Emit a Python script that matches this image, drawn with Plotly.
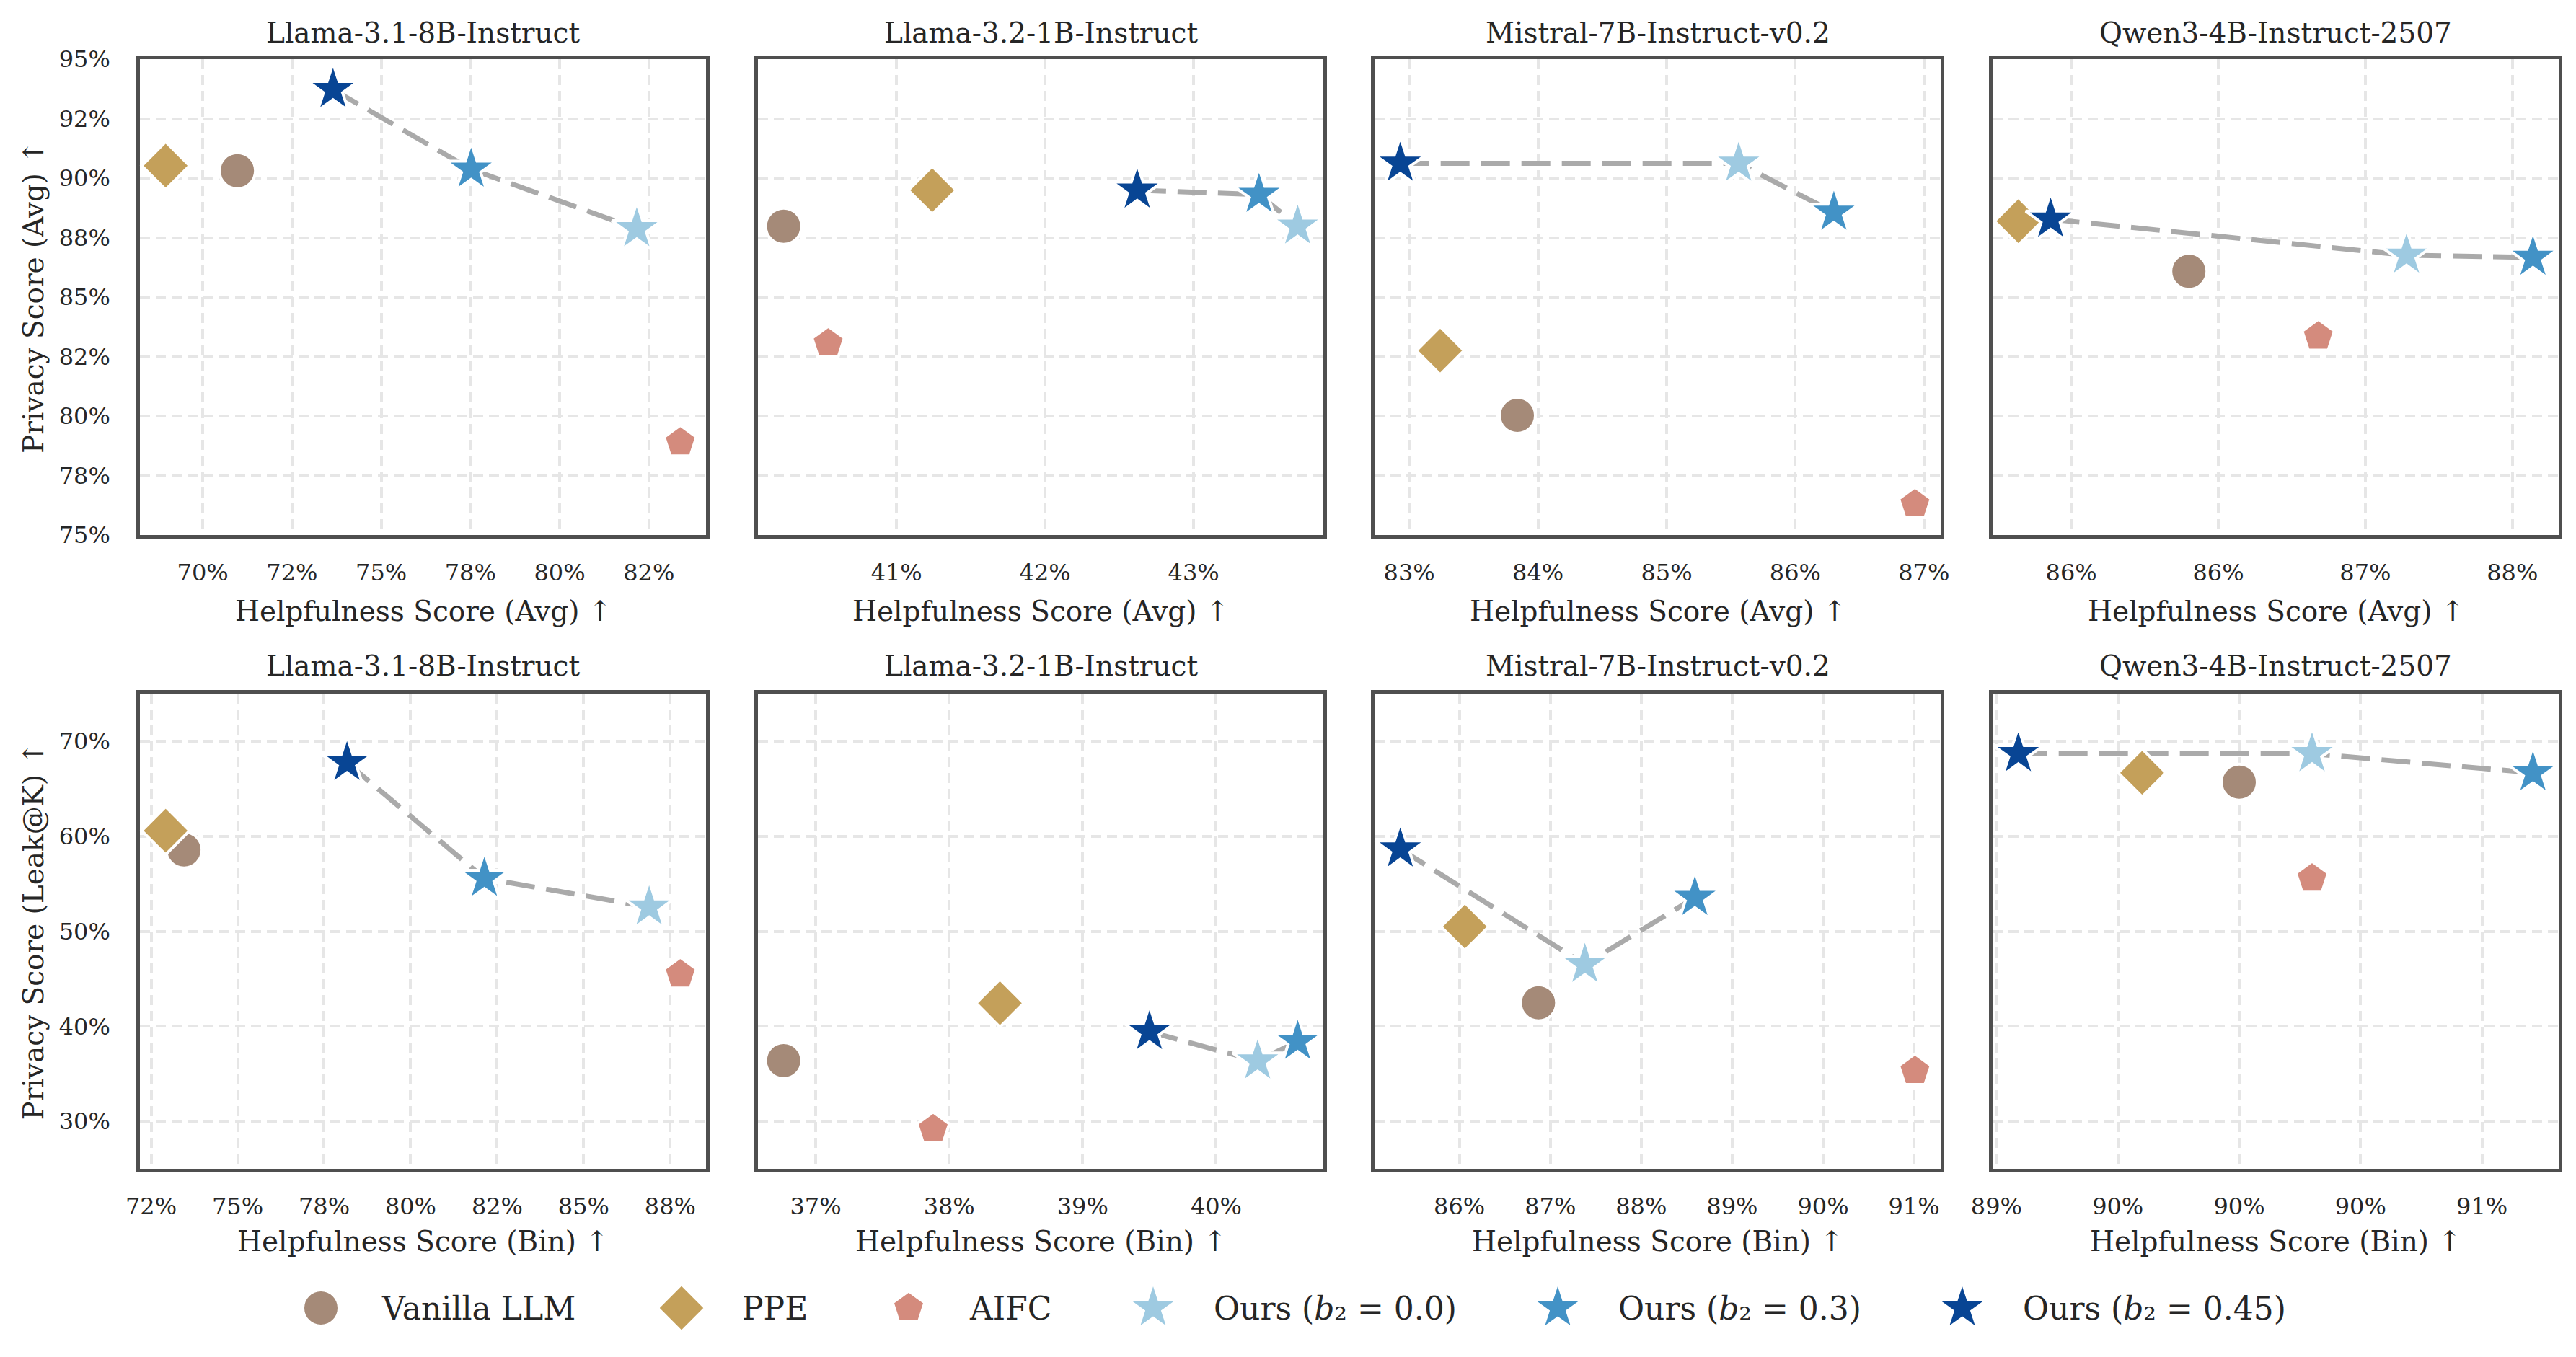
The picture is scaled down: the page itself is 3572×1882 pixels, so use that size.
import plotly.graph_objects as go

W, H = 3572, 1882
FONT = "DejaVu Serif"
TEXT_COLOR = "#262626"

# ---------------- data ----------------
MODELS = ["Llama-3.1-8B-Instruct", "Llama-3.2-1B-Instruct",
          "Mistral-7B-Instruct-v0.2", "Qwen3-4B-Instruct-2507"]
METHODS = ["Vanilla LLM", "PPE", "AIFC",
           "Ours (<i>b</i>₂ = 0.0)",
           "Ours (<i>b</i>₂ = 0.3)",
           "Ours (<i>b</i>₂ = 0.45)"]

# rows: models; columns: methods in METHODS order
HELP_AVG = [
    [70.97, 68.96, 83.38, 82.16, 77.52, 73.65],
    [40.24, 41.24, 40.54, 43.70, 43.44, 42.62],
    [83.84, 83.24, 86.93, 85.56, 86.30, 82.93],
    [86.40, 85.82, 86.84, 87.14, 87.57, 85.93],
]
PRIV_AVG = [
    [90.31, 90.52, 78.90, 87.87, 90.37, 93.72],
    [87.98, 89.49, 83.06, 87.98, 89.31, 89.49],
    [80.03, 82.75, 76.30, 90.62, 88.56, 90.62],
    [86.08, 88.19, 83.35, 86.76, 86.67, 88.27],
]
HELP_BIN = [
    [73.45, 72.92, 87.79, 86.89, 82.13, 78.16],
    [36.76, 38.38, 37.88, 40.31, 40.61, 39.50],
    [86.87, 86.06, 91.01, 87.38, 88.59, 85.35],
    [90.00, 89.60, 90.30, 90.30, 91.21, 89.09],
]
PRIV_LEAK = [
    [58.56, 60.58, 45.47, 52.55, 55.56, 67.74],
    [36.38, 42.43, 29.18, 36.34, 38.40, 39.42],
    [42.47, 50.49, 35.31, 46.50, 53.54, 58.64],
    [65.68, 66.67, 55.56, 68.68, 66.67, 68.68],
]

XTICKS_AVG = [[70, 72.5, 75, 77.5, 80, 82.5], [41, 42, 43],
              [83, 84, 85, 86, 87], [86, 86.5, 87, 87.5]]
XTICKTEXT_AVG = [["70%", "72%", "75%", "78%", "80%", "82%"], ["41%", "42%", "43%"],
                 ["83%", "84%", "85%", "86%", "87%"], ["86%", "86%", "87%", "88%"]]
XTICKS_BIN = [[72.5, 75, 77.5, 80, 82.5, 85, 87.5], [37, 38, 39, 40],
              [86, 87, 88, 89, 90, 91], [89, 89.5, 90, 90.5, 91]]
XTICKTEXT_BIN = [["72%", "75%", "78%", "80%", "82%", "85%", "88%"], ["37%", "38%", "39%", "40%"],
                 ["86%", "87%", "88%", "89%", "90%", "91%"], ["89%", "90%", "90%", "90%", "91%"]]
YTICKS_AVG = [75, 77.5, 80, 82.5, 85, 87.5, 90, 92.5, 95]
YTICKTEXT_AVG = ["75%", "78%", "80%", "82%", "85%", "88%", "90%", "92%", "95%"]
YRANGE_AVG = [75, 95]
YTICKS_LEAK = [30, 40, 50, 60, 70]
YTICKTEXT_LEAK = ["30%", "40%", "50%", "60%", "70%"]
YRANGE_LEAK = [25, 75]

# ---------------- style ----------------
COLORS = ["#A58A78", "#C4A05A", "#D48B7D", "#9ECAE1", "#4292C6", "#084594"]
SYMBOLS = ["circle", "diamond", "pentagon", "star", "star", "star"]
SIZES = [50, 51, 47, 52, 52, 52]
OURS = [3, 4, 5]

COL_PX = [(194, 979), (1051, 1835), (1906, 2691), (2763, 3548)]
ROW_PX = [(82, 742), (962, 1621)]
TITLE_Y = [46, 923]
XLABEL_Y = [847, 1721]
YLABEL_X = 46
LEGEND_X = [445, 945, 1260, 1599, 2160, 2721]
LEGEND_Y = 1814
LEGEND_TEXT_GAP = 82


def fx(p):
    return p / W


def fy(p):
    return 1 - p / H


rows = [
    dict(hx=HELP_AVG, py=PRIV_AVG, xt=XTICKS_AVG, xtt=XTICKTEXT_AVG,
         yt=YTICKS_AVG, ytt=YTICKTEXT_AVG, yr=YRANGE_AVG,
         xlabel="Helpfulness Score (Avg) ↑", ylabel="Privacy Score (Avg) ↑"),
    dict(hx=HELP_BIN, py=PRIV_LEAK, xt=XTICKS_BIN, xtt=XTICKTEXT_BIN,
         yt=YTICKS_LEAK, ytt=YTICKTEXT_LEAK, yr=YRANGE_LEAK,
         xlabel="Helpfulness Score (Bin) ↑", ylabel="Privacy Score (Leak@K) ↑"),
]

fig = go.Figure()
layout = {}
annotations = []

axis_common = dict(
    showgrid=True, gridcolor="#E6E6E6", gridwidth=3.5, griddash="14px,8px",
    showline=True, mirror=True, linecolor="#4F4F4F", linewidth=4.5,
    ticks="", zeroline=False, layer="below traces", automargin=False,
    tickfont=dict(family=FONT, size=32, color=TEXT_COLOR),
)

for r, row in enumerate(rows):
    for c in range(4):
        k = r * 4 + c + 1
        xa = "x" if k == 1 else f"x{k}"
        ya = "y" if k == 1 else f"y{k}"
        xs = row["hx"][c]
        ys = row["py"][c]

        order = sorted(OURS, key=lambda i: xs[i])
        fig.add_trace(go.Scatter(
            x=[xs[i] for i in order], y=[ys[i] for i in order], mode="lines",
            line=dict(color="#AAAAAA", width=7, dash="40px,16px"),
            xaxis=xa, yaxis=ya, showlegend=False, hoverinfo="skip"))
        for m in range(len(METHODS)):
            fig.add_trace(go.Scatter(
                x=[xs[m]], y=[ys[m]], mode="markers", name=METHODS[m],
                marker=dict(symbol=SYMBOLS[m], size=SIZES[m], color=COLORS[m],
                            line=dict(color="white", width=4)),
                cliponaxis=False, xaxis=xa, yaxis=ya, showlegend=False))

        lo, hi = min(xs), max(xs)
        pad = 0.05 * (hi - lo)
        x0, x1 = COL_PX[c]
        y0, y1 = ROW_PX[r]
        layout["xaxis" if k == 1 else f"xaxis{k}"] = dict(
            axis_common, domain=[fx(x0), fx(x1)], range=[lo - pad, hi + pad],
            tickmode="array", tickvals=row["xt"][c], ticktext=row["xtt"][c],
            anchor=ya, ticklabelstandoff=20)
        layout["yaxis" if k == 1 else f"yaxis{k}"] = dict(
            axis_common, domain=[fy(y1), fy(y0)], range=row["yr"],
            tickmode="array", tickvals=row["yt"], ticktext=row["ytt"],
            showticklabels=(c == 0), anchor=xa, ticklabelstandoff=30)

        annotations.append(dict(
            text=MODELS[c], x=fx((x0 + x1) / 2), y=fy(TITLE_Y[r]),
            xref="paper", yref="paper", xanchor="center", yanchor="middle",
            showarrow=False, font=dict(family=FONT, size=39, color=TEXT_COLOR)))
        annotations.append(dict(
            text=row["xlabel"], x=fx((x0 + x1) / 2), y=fy(XLABEL_Y[r]),
            xref="paper", yref="paper", xanchor="center", yanchor="middle",
            showarrow=False, font=dict(family=FONT, size=39, color=TEXT_COLOR)))
    y0, y1 = ROW_PX[r]
    annotations.append(dict(
        text=row["ylabel"], x=fx(YLABEL_X), y=fy((y0 + y1) / 2), textangle=-90,
        xref="paper", yref="paper", xanchor="center", yanchor="middle",
        showarrow=False, font=dict(family=FONT, size=39, color=TEXT_COLOR)))

# ---------------- legend (own axis) ----------------
for m in range(len(METHODS)):
    fig.add_trace(go.Scatter(
        x=[LEGEND_X[m]], y=[H - LEGEND_Y], mode="markers",
        marker=dict(symbol=SYMBOLS[m], size=SIZES[m], color=COLORS[m],
                    line=dict(color="white", width=4)),
        cliponaxis=False, xaxis="x9", yaxis="y9", showlegend=False, hoverinfo="skip"))
    annotations.append(dict(
        text=METHODS[m], x=fx(LEGEND_X[m] + LEGEND_TEXT_GAP), y=fy(LEGEND_Y),
        xref="paper", yref="paper", xanchor="left", yanchor="middle",
        showarrow=False, font=dict(family=FONT, size=44, color=TEXT_COLOR)))

layout["xaxis9"] = dict(domain=[0, 1], range=[0, W], visible=False,
                        anchor="y9", automargin=False)
layout["yaxis9"] = dict(domain=[0, 0.1], range=[0, 0.1 * H], visible=False,
                        anchor="x9", automargin=False)

fig.update_layout(
    **layout,
    annotations=annotations,
    width=W, height=H,
    margin=dict(l=0, r=0, t=0, b=0, autoexpand=False),
    paper_bgcolor="white", plot_bgcolor="white",
    showlegend=False,
    font=dict(family=FONT, color=TEXT_COLOR),
)

fig.write_html("out.html",
               config={"displayModeBar": False},
               post_script="document.body.style.margin='0';document.body.style.overflow='hidden';")
